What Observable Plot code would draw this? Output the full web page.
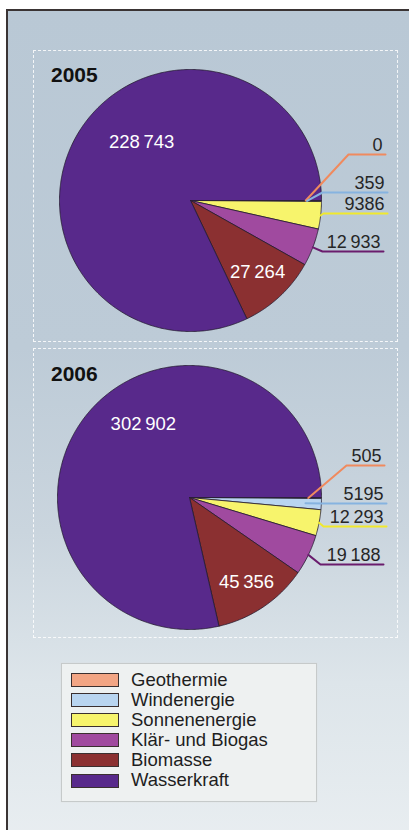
<!DOCTYPE html>
<html><head><meta charset="utf-8">
<script src="https://cdn.jsdelivr.net/npm/d3@7"></script>
<script src="https://cdn.jsdelivr.net/npm/@observablehq/plot@0.6"></script>
<style>
html,body{margin:0;padding:0}
body{width:409px;height:830px;overflow:hidden;background:#fff;position:relative;font-family:"Liberation Sans",Arial,sans-serif}
#frame{position:absolute;left:6px;top:9px;width:430px;height:840px;border-top:2px solid #3a3434;border-left:2px solid #3a3434;
 background:linear-gradient(to bottom,#b9c8d5 0%,#bdcbd7 40%,#cad5de 62%,#dde5ea 80%,#e9eef1 100%)}
.panel{position:absolute;box-sizing:border-box;border:1px dashed rgba(255,255,255,0.85)}
.year{position:absolute;font-weight:bold;font-size:21px;line-height:20px;color:#111}
.plotbox{position:absolute}
#legend{position:absolute;left:61px;top:663px;width:256px;height:139px;box-sizing:border-box;background:#eef1f1;border:1px solid #c6caca;box-shadow:0 0 1px #d8dcdc}
.sw{position:absolute;box-sizing:border-box;width:48px;height:14px;border:1px solid #3a2f2f}
.lt{position:absolute;font-size:18.5px;line-height:20px;color:#1e1e1e;white-space:nowrap}
</style>
</head><body>
<div id="frame"></div>
<div id="root"></div>
<script>
// ---- data ----
const categories = ["Geothermie", "Windenergie", "Sonnenenergie", "Klär- und Biogas", "Biomasse", "Wasserkraft"];
const years = ["2005", "2006"];
const values2005 = [0, 359, 9386, 12933, 27264, 228743];
const values2006 = [505, 5195, 12293, 19188, 45356, 302902];
const valuesByYear = {"2005": values2005, "2006": values2006};

// ---- styles ----
const sliceColors = ["#f2a584", "#b9d5f0", "#f7f46c", "#a04a9f", "#8b3031", "#58298b"];
const leaderColors = ["#f08a5e", "#86b3e0", "#f1e92c", "#6a1c6d"];

// ---- layout (page pixels) ----
const layout = {
  "2005": {left: 33, top: 50, width: 365, height: 292, cx: 157, cy: 150, r: 131,
           yearTop: 65,
           rows: [-46, -8, 13, 51], elbowX: [158, 132, 133, 132], endX: [195, 197, 197, 193], start: [0.88, 0.89, 1, 1],
           wasser: [-130, 0.58], bio: 0.75},
  "2006": {left: 33, top: 348, width: 365, height: 290, cx: 156, cy: 149, r: 132,
           yearTop: 364,
           rows: [-32, 6, 29, 67], elbowX: [157, 133, 134, 131], endX: [195, 197, 197, 194], start: [0.9, 0.88, 1, 1],
           wasser: [-122, 0.66], bio: 0.77}
};

const fmt = v => v >= 10000 ? d3.format(",")(v).replace(/,/g, "\u2009") : String(v);

const root = document.getElementById("root");

for (const year of years) {
  const L = layout[year];
  const values = valuesByYear[year];
  const R = L.r;
  const data = categories.map((c, i) => ({cat: c, value: values[i], i}));
  const arcs = d3.pie().value(d => d.value).sort(null)
    .startAngle(Math.PI / 2).endAngle(Math.PI / 2 + 2 * Math.PI)(data);

  const marks = [];
  // slices
  arcs.forEach(a => {
    if (a.endAngle - a.startAngle <= 0) return;
    const n = Math.max(2, Math.ceil((a.endAngle - a.startAngle) / (Math.PI / 360)));
    const pts = [{x: 0, y: 0}];
    for (let k = 0; k <= n; k++) {
      const t = a.startAngle + (a.endAngle - a.startAngle) * k / n;
      pts.push({x: Math.sin(t), y: Math.cos(t)});
    }
    pts.push({x: 0, y: 0});
    marks.push(Plot.line(pts, {x: "x", y: "y", fill: sliceColors[a.data.i], stroke: "#241c30",
      strokeWidth: 0.8, strokeLinejoin: "round", curve: "linear"}));
  });
  // outer leader lines + labels for first four categories
  const outer = [];
  for (let i = 0; i < 4; i++) {
    const a = arcs[i];
    const mid = (a.startAngle + a.endAngle) / 2;
    const r0 = L.start[i];
    const rowY = -L.rows[i] / R;
    const pts = [
      {x: r0 * Math.sin(mid), y: r0 * Math.cos(mid)},
      {x: L.elbowX[i] / R, y: rowY},
      {x: L.endX[i] / R, y: rowY}
    ];
    marks.push(Plot.line(pts, {x: "x", y: "y", stroke: leaderColors[i], strokeWidth: 2, strokeLinejoin: "round"}));
    outer.push({x: (L.endX[i] - 3) / R, y: (-L.rows[i] + 4) / R, label: fmt(values[i])});
  }
  marks.push(Plot.text(outer, {x: "x", y: "y", text: "label", textAnchor: "end", lineAnchor: "bottom",
    fontSize: 18, fill: "#262626", fontFamily: "Liberation Sans, Arial, sans-serif"}));
  // inner labels
  const bio = arcs[4];
  const bmid = (bio.startAngle + bio.endAngle) / 2;
  const wa = L.wasser[0] * Math.PI / 180;
  const inner = [
    {x: L.bio * Math.sin(bmid), y: L.bio * Math.cos(bmid), label: fmt(values[4])},
    {x: L.wasser[1] * Math.cos(wa), y: -L.wasser[1] * Math.sin(wa), label: fmt(values[5])}
  ];
  marks.push(Plot.text(inner, {x: "x", y: "y", text: "label", textAnchor: "middle", lineAnchor: "middle",
    fontSize: 18.5, fill: "#ffffff", fontFamily: "Liberation Sans, Arial, sans-serif"}));

  const chart = Plot.plot({
    width: L.width, height: L.height,
    margin: 0,
    x: {domain: [-L.cx / R, (L.width - L.cx) / R], range: [0, L.width], axis: null},
    y: {domain: [-(L.height - L.cy) / R, L.cy / R], range: [L.height, 0], axis: null},
    style: {background: "transparent", overflow: "visible", fontFamily: "Liberation Sans, Arial, sans-serif"},
    marks
  });

  const panel = document.createElement("div");
  panel.className = "panel";
  Object.assign(panel.style, {left: L.left + "px", top: L.top + "px", width: L.width + "px", height: L.height + "px"});
  root.appendChild(panel);

  const box = document.createElement("div");
  box.className = "plotbox";
  Object.assign(box.style, {left: L.left + "px", top: L.top + "px", width: L.width + "px", height: L.height + "px"});
  box.appendChild(chart);
  root.appendChild(box);

  const yl = document.createElement("div");
  yl.className = "year";
  yl.textContent = year;
  Object.assign(yl.style, {left: "51px", top: L.yearTop + "px"});
  root.appendChild(yl);
}

// legend
const legend = document.createElement("div");
legend.id = "legend";
root.appendChild(legend);
categories.forEach((c, i) => {
  const sw = document.createElement("div");
  sw.className = "sw";
  Object.assign(sw.style, {left: "71px", top: (673 + i * 20.1) + "px", background: sliceColors[i]});
  root.appendChild(sw);
  const t = document.createElement("div");
  t.className = "lt";
  t.textContent = c;
  Object.assign(t.style, {left: "131px", top: (669.6 + i * 20.1) + "px"});
  root.appendChild(t);
});
</script>
</body></html>
